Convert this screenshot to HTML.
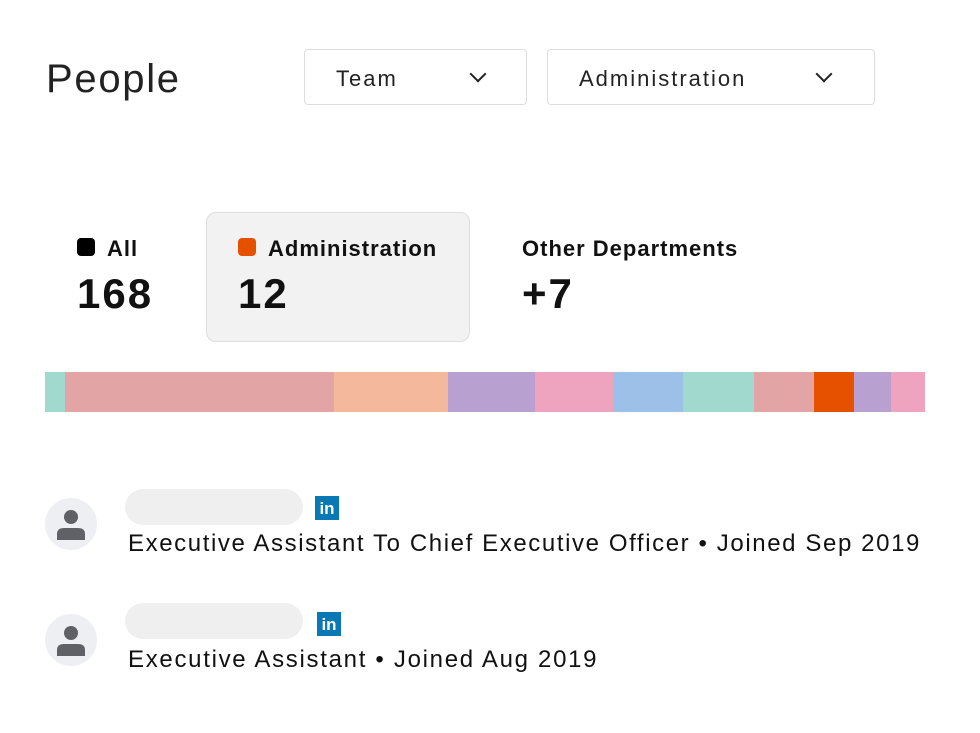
<!DOCTYPE html>
<html><head><style>
body{margin:0;width:980px;height:733px;background:#fff;font-family:"Liberation Sans",sans-serif;position:relative;overflow:hidden;color:#111}
.a{position:absolute}
.dd{position:absolute;top:49px;height:56px;border:1.5px solid #ddd;border-radius:4px;box-sizing:border-box;font-size:22px;line-height:58px;padding-left:31px;color:#222;letter-spacing:2px}
.chev{position:absolute;top:18px;width:10px;height:10px;border-right:2.5px solid #222;border-bottom:2.5px solid #222;transform:rotate(45deg)}
.seg{position:absolute;top:372px;height:40px}
.av{position:absolute;left:45px;width:52px;height:52px;border-radius:50%;background:#eeeff3}
.pill{position:absolute;left:125px;width:178px;height:36px;border-radius:18px;background:#efefef}
.li{position:absolute;width:24px;height:24px;background:#0a78b5;color:#fff;font-weight:bold;font-size:17px;line-height:25px;text-align:center}
.t{position:absolute;left:128px;font-size:24px;color:#111}
.h{font-size:22px;font-weight:bold;letter-spacing:1px}
.n{font-size:42px;font-weight:bold;letter-spacing:2px}
</style></head><body>
<div class="a" style="left:46px;top:57px;font-size:40px;color:#222;letter-spacing:1.7px">People</div>
<div class="dd" style="left:304px;width:223px">Team<div class="chev" style="left:167px"></div></div>
<div class="dd" style="left:547px;width:328px">Administration<div class="chev" style="left:270px"></div></div>

<div class="a" style="left:77px;top:238px;width:18px;height:18px;background:#000;border-radius:4px"></div>
<div class="a h" style="left:107px;top:236px">All</div>
<div class="a n" style="left:77px;top:270px">168</div>

<div class="a" style="left:206px;top:212px;width:264px;height:130px;background:#f2f2f2;border:1.5px solid #ddd;border-radius:10px;box-sizing:border-box"></div>
<div class="a" style="left:238px;top:238px;width:18px;height:18px;background:#e65100;border-radius:4px"></div>
<div class="a h" style="left:268px;top:236px">Administration</div>
<div class="a n" style="left:238px;top:270px">12</div>

<div class="a h" style="left:522px;top:236px">Other Departments</div>
<div class="a n" style="left:522px;top:270px">+7</div>

<div class="seg" style="left:45px;width:20px;background:#a2d9cf"></div>
<div class="seg" style="left:65px;width:269px;background:#e3a4a5"></div>
<div class="seg" style="left:334px;width:114px;background:#f4b99c"></div>
<div class="seg" style="left:448px;width:87px;background:#b8a1d0"></div>
<div class="seg" style="left:535px;width:78px;background:#eea4bf"></div>
<div class="seg" style="left:613px;width:70px;background:#9cc0e8"></div>
<div class="seg" style="left:683px;width:71px;background:#a2d9cf"></div>
<div class="seg" style="left:754px;width:60px;background:#e3a4a5"></div>
<div class="seg" style="left:814px;width:40px;background:#e65100"></div>
<div class="seg" style="left:854px;width:37px;background:#b8a1d0"></div>
<div class="seg" style="left:891px;width:34px;background:#eea4bf"></div>

<div class="av" style="top:498px"><svg width="52" height="52"><circle cx="26" cy="19" r="7" fill="#5f6166"/><path d="M12 42 v-6 q0-6 7-6 h14 q7 0 7 6 v6z" fill="#5f6166"/></svg></div>
<div class="pill" style="top:489px"></div>
<div class="li" style="left:315px;top:496px">in</div>
<div class="t" style="top:530px;letter-spacing:1.6px">Executive Assistant To Chief Executive Officer • Joined Sep 2019</div>

<div class="av" style="top:614px"><svg width="52" height="52"><circle cx="26" cy="19" r="7" fill="#5f6166"/><path d="M12 42 v-6 q0-6 7-6 h14 q7 0 7 6 v6z" fill="#5f6166"/></svg></div>
<div class="pill" style="top:603px"></div>
<div class="li" style="left:317px;top:612px">in</div>
<div class="t" style="top:646px;letter-spacing:1.7px">Executive Assistant • Joined Aug 2019</div>
</body></html>
